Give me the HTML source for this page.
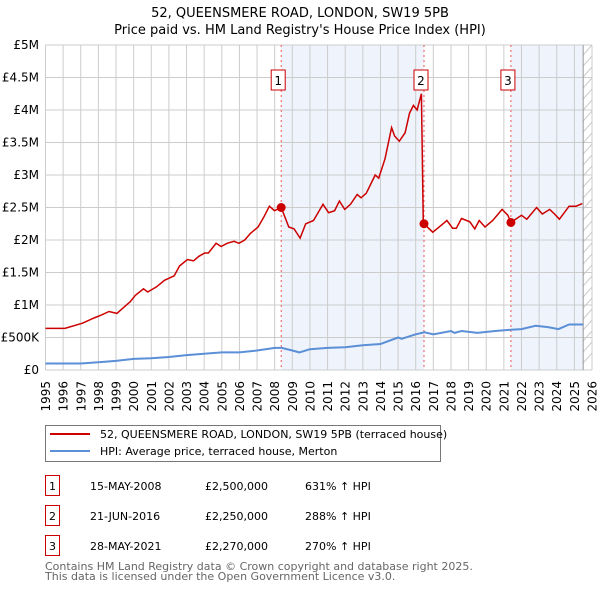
<!DOCTYPE html>
<html><head><meta charset="utf-8"><style>
body{margin:0;background:#fff;font-family:"Liberation Sans","DejaVu Sans",sans-serif}
svg text{font-family:"DejaVu Sans","Liberation Sans",sans-serif}
</style></head><body>
<svg id="c" width="600" height="590" xmlns="http://www.w3.org/2000/svg"></svg>
<script>
const redYears=[1995,1996.1,1997.1,1997.75,1998.2,1998.6,1999.05,1999.8,2000.1,2000.56,2000.8,2001.3,2001.75,2002.3,2002.6,2003.05,2003.4,2003.7,2004.03,2004.24,2004.68,2004.96,2005.3,2005.7,2005.97,2006.3,2006.62,2007.06,2007.38,2007.7,2007.99,2008.37,2008.8,2009.1,2009.44,2009.76,2010.2,2010.74,2011.06,2011.4,2011.67,2011.97,2012.3,2012.68,2012.9,2013.2,2013.7,2013.9,2014.26,2014.63,2014.8,2015.07,2015.4,2015.65,2015.87,2016.08,2016.32,2016.43,2016.47,2016.97,2017.55,2017.77,2018.1,2018.3,2018.6,2019.07,2019.35,2019.6,2019.93,2020.37,2020.9,2021.23,2021.4,2022.0,2022.3,2022.86,2023.18,2023.6,2023.87,2024.15,2024.7,2025.1,2025.45];
const redValues=[0.64,0.64,0.72,0.8,0.85,0.9,0.87,1.05,1.15,1.25,1.2,1.28,1.38,1.45,1.6,1.7,1.68,1.75,1.8,1.8,1.95,1.9,1.95,1.98,1.95,2.0,2.1,2.2,2.35,2.52,2.45,2.5,2.2,2.17,2.03,2.25,2.3,2.55,2.42,2.45,2.6,2.47,2.55,2.7,2.65,2.72,3.0,2.95,3.25,3.73,3.6,3.52,3.65,3.95,4.07,4.0,4.25,2.25,2.25,2.12,2.25,2.3,2.18,2.18,2.33,2.28,2.17,2.3,2.2,2.3,2.47,2.38,2.27,2.38,2.32,2.5,2.4,2.47,2.4,2.32,2.52,2.52,2.56];
const hpiYears=[1995,1997,1998,1999,2000,2001,2002,2003,2004,2005,2006,2007,2008,2008.4,2009,2009.4,2010,2011,2012,2013,2014,2015,2015.2,2016,2016.5,2017,2018,2018.2,2018.6,2019.5,2020.5,2021.4,2022,2022.8,2023.5,2024.1,2024.7,2025.5];
const hpiValues=[0.1,0.1,0.12,0.14,0.17,0.18,0.2,0.23,0.25,0.27,0.27,0.3,0.34,0.34,0.3,0.27,0.32,0.34,0.35,0.38,0.4,0.5,0.48,0.55,0.58,0.55,0.6,0.57,0.6,0.57,0.6,0.62,0.63,0.68,0.66,0.63,0.7,0.7];
const saleYears=[2008.37,2016.47,2021.4];
const saleValues=[2.5,2.25,2.27];
const saleLabels=["1","2","3"];
const yTicks=[0,0.5,1,1.5,2,2.5,3,3.5,4,4.5,5];
const yTickLabels=["£0","£500K","£1M","£1.5M","£2M","£2.5M","£3M","£3.5M","£4M","£4.5M","£5M"];
const X0=45.5,X1=592,Y0=370,Y1=45;
const xs=y=>X0+(y-1995)/(2026-1995)*(X1-X0);
const ys=v=>Y0-v/5*(Y0-Y1);
const svg=document.getElementById('c');
const NS='http://www.w3.org/2000/svg';
function el(t,a,txt){const e=document.createElementNS(NS,t);for(const k in a)e.setAttribute(k,a[k]);if(txt!==undefined)e.textContent=txt;svg.appendChild(e);return e;}
let e;
e=el('text',{x:300,y:17,'text-anchor':'middle','font-size':13},'52, QUEENSMERE ROAD, LONDON, SW19 5PB');


e=el('text',{x:300,y:34,'text-anchor':'middle','font-size':13},"Price paid vs. HM Land Registry's House Price Index (HPI)");


e=el('rect',{x:xs(saleYears[0]),y:Y1,width:xs(saleYears[1])-xs(saleYears[0]),height:Y0-Y1,fill:'#eef3fc'});


e=el('rect',{x:xs(saleYears[2]),y:Y1,width:xs(2025.5)-xs(saleYears[2]),height:Y0-Y1,fill:'#eef3fc'});


for(let i=0;i<30;i++){const yy=Y1+i*11;if(yy+10>Y0)break;el('line',{x1:xs(2025.5),y1:yy+10,x2:X1,y2:yy,stroke:'#ccc','stroke-width':1});}
for(let yr=1995;yr<=2026;yr++){
e=el('line',{x1:xs(yr),y1:Y1,x2:xs(yr),y2:Y0,stroke:'#cccccc'});


e=el('text',{x:0,y:0,'text-anchor':'end','font-size':12,transform:`translate(${(xs(yr)+4.5).toFixed(1)},381) rotate(-90)`},String(yr));


}
yTicks.forEach((v,i)=>{
e=el('line',{x1:X0,y1:ys(v),x2:X1,y2:ys(v),stroke:'#cccccc'});


e=el('text',{x:39,y:ys(v)+4,'text-anchor':'end','font-size':12},yTickLabels[i]);


});
el('line',{x1:xs(2025.5),y1:Y1,x2:xs(2025.5),y2:Y0,stroke:'#999'});
saleYears.forEach((s,i)=>{
e=el('line',{x1:xs(s),y1:Y1,x2:xs(s),y2:Y0,stroke:'#e55','stroke-dasharray':'2,3'});


const bx=xs(s)-3;
e=el('rect',{x:bx-7,y:70,width:14,height:20,fill:'#fff',stroke:'#c00'});


el('text',{x:bx,y:85,'text-anchor':'middle','font-size':12},saleLabels[i]);
});
function path(xsArr,vs){return xsArr.map((y,i)=>(i?'L':'M')+xs(y).toFixed(1)+','+ys(vs[i]).toFixed(1)).join('');}
e=el('path',{d:path(hpiYears,hpiValues),fill:'none',stroke:'#5b8fd6','stroke-width':2});


e=el('path',{d:path(redYears,redValues),fill:'none',stroke:'#cc0000','stroke-width':1.5});


saleYears.forEach((s,i)=>{
e=el('circle',{cx:xs(s),cy:ys(saleValues[i]),r:4.5,fill:'#cc0000'});


});
e=el('rect',{x:45.5,y:425.5,width:395,height:36,fill:'#fff',stroke:'#777'});


el('line',{x1:50,y1:434,x2:90,y2:434,stroke:'#cc0000','stroke-width':2});
e=el('text',{x:100,y:438,'font-size':11},'52, QUEENSMERE ROAD, LONDON, SW19 5PB (terraced house)');


el('line',{x1:50,y1:451,x2:90,y2:451,stroke:'#5b8fd6','stroke-width':2});
e=el('text',{x:100,y:455,'font-size':11},'HPI: Average price, terraced house, Merton');


const rows=[["1","15-MAY-2008","£2,500,000","631% ↑ HPI"],["2","21-JUN-2016","£2,250,000","288% ↑ HPI"],["3","28-MAY-2021","£2,270,000","270% ↑ HPI"]];
rows.forEach((r,i)=>{const y=483+i*30;
e=el('rect',{x:45.5,y:y-7.5,width:14,height:20,fill:'#fff',stroke:'#c00'});


el('text',{x:52.5,y:y+7,'text-anchor':'middle','font-size':11},r[0]);
el('text',{x:90,y:y+7,'font-size':11},r[1]);
el('text',{x:205,y:y+7,'font-size':11},r[2]);
el('text',{x:305,y:y+7,'font-size':11},r[3]);
});
e=el('text',{x:45,y:570,'font-size':11,fill:'#666'},'Contains HM Land Registry data © Crown copyright and database right 2025.');


e=el('text',{x:45,y:580,'font-size':11,fill:'#666'},'This data is licensed under the Open Government Licence v3.0.');


</script>
</body></html>
